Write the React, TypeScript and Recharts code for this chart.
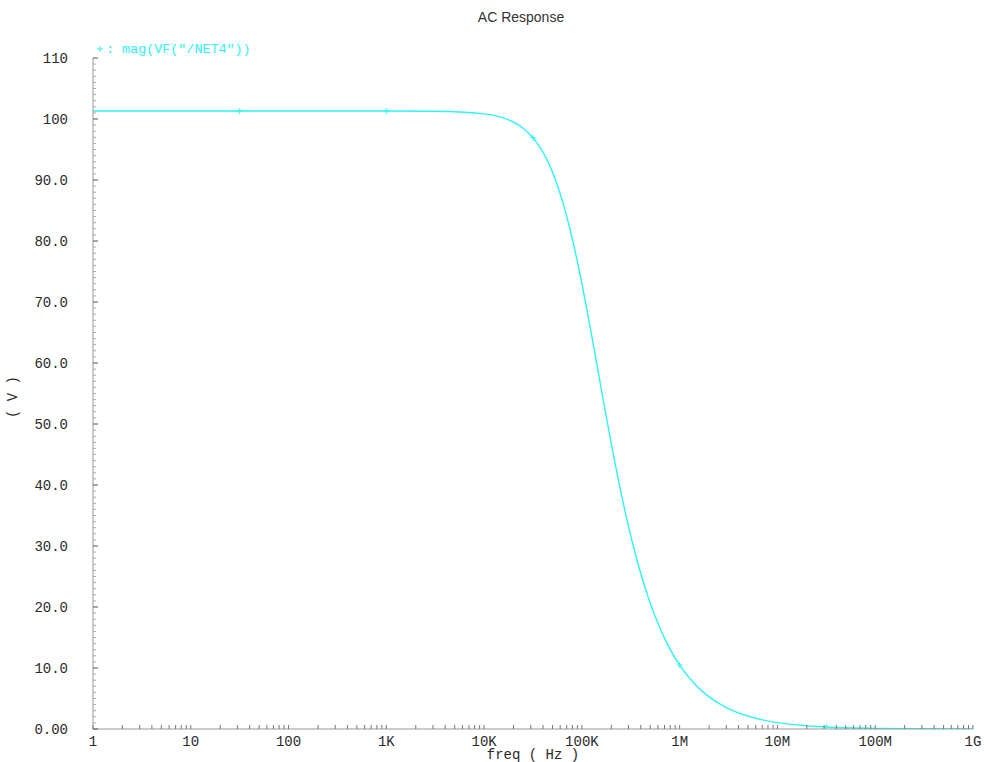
import React from 'react';
import { LineChart, Line, XAxis, YAxis, Customized } from 'recharts';

// Frequency sweep (Hz) and the magnitude of VF("/NET4") in volts
const freqHz = [
  1, 10, 31.6, 100, 1000, 3000, 10000, 15000, 20000, 25000, 31623, 35000, 40000,
  45000, 50000, 60000, 70000, 80000, 90000, 100000, 110000, 120000, 130000,
  150000, 170000, 200000, 250000, 300000, 350000, 400000, 500000, 600000,
  700000, 800000, 1000000, 1500000, 2000000, 3000000, 5000000, 7000000,
  10000000, 31623000, 100000000, 316230000, 1000000000,
];
const magV = [
  101.3, 101.3, 101.3, 101.3, 101.3, 101.26, 100.84, 100.27, 99.48, 98.49, 96.92,
  96.01, 94.55, 92.97, 91.29, 87.75, 84.04, 80.29, 76.6, 73.02, 69.59, 66.34,
  63.28, 57.72, 52.86, 46.74, 38.91, 33.18, 28.85, 25.49, 20.63, 17.3, 14.89,
  13.06, 10.48, 7.01, 5.26, 3.51, 2.11, 1.5, 1.054, 0.333, 0.105, 0.033, 0.0105,
];
// Frequencies carrying the "+" trace marker
const markerHz = [31.6, 1000, 31623, 1000000, 31623000, 1000000000];

const xMajorTicks = [1, 10, 100, 1e3, 1e4, 1e5, 1e6, 1e7, 1e8, 1e9];
const xMajorLabels = ['1', '10', '100', '1K', '10K', '100K', '1M', '10M', '100M', '1G'];
const yMajorTicks = [0, 10, 20, 30, 40, 50, 60, 70, 80, 90, 100, 110];
const yMajorLabels = ['0.00', '10.0', '20.0', '30.0', '40.0', '50.0', '60.0', '70.0', '80.0', '90.0', '100', '110'];

const title = 'AC Response';
const seriesName = 'mag(VF("/NET4"))';
const xTitle = 'freq ( Hz )';
const yTitle = '( V )';

const data = freqHz.map((f, i) => ({ f, v: magV[i] }));

// minor ticks: 2..9 within each decade, and every 1 V on the magnitude axis
const xTicks: number[] = [];
xMajorTicks.forEach((d, i) => {
  xTicks.push(d);
  if (i < xMajorTicks.length - 1) for (let k = 2; k <= 9; k++) xTicks.push(d * k);
});
const yTicks: number[] = [];
for (let v = 0; v <= 110; v++) yTicks.push(v);

const CYAN = '#2ef4f4';
const MONO = '"Liberation Mono", "DejaVu Sans Mono", monospace';
const SANS = '"Liberation Sans", Arial, sans-serif';
const INK = '#2a2a2a';

const XTick = (props: any) => {
  const { x, y, payload } = props;
  const idx = xMajorTicks.indexOf(payload.value);
  return (
    <g>
      <line x1={x} x2={x} y1={y} y2={y - 4} stroke="#777" strokeWidth={1} />
      {idx >= 0 && (
        <text x={x} y={y + 17} textAnchor="middle" fontFamily={MONO} fontSize={14} fill={INK}>
          {xMajorLabels[idx]}
        </text>
      )}
    </g>
  );
};

const YTick = (props: any) => {
  const { x, y, payload } = props;
  const idx = yMajorTicks.indexOf(payload.value);
  const major = idx >= 0;
  return (
    <g>
      <line x1={x} x2={x + (major ? 5 : 3)} y1={y} y2={y} stroke={major ? '#555' : '#aaa'} strokeWidth={1} />
      {major && (
        <text x={x - 25} y={y + 5} textAnchor="end" fontFamily={MONO} fontSize={14} fill={INK}>
          {yMajorLabels[idx]}
        </text>
      )}
    </g>
  );
};

const renderDot = (props: any) => {
  const { cx, cy, payload, index } = props;
  if (!markerHz.includes(payload.f)) return <g key={`d${index}`} />;
  return (
    <g key={`d${index}`}>
      <line x1={cx - 3} x2={cx + 3} y1={cy} y2={cy} stroke={CYAN} strokeWidth={1} />
      <line x1={cx} x2={cx} y1={cy - 3} y2={cy + 3} stroke={CYAN} strokeWidth={1} />
    </g>
  );
};

const Annotations = () => (
  <g>
    <text x={521} y={22} textAnchor="middle" fontFamily={SANS} fontSize={14} fill="#333">
      {title}
    </text>
    <line x1={97} x2={103} y1={49} y2={49} stroke={CYAN} strokeWidth={1} />
    <line x1={100} x2={100} y1={46} y2={52} stroke={CYAN} strokeWidth={1} />
    <text x={106} y={53} fontFamily={MONO} fontSize={13.4} fill={CYAN}>
      {': ' + seriesName}
    </text>
    <text x={533} y={759} textAnchor="middle" fontFamily={MONO} fontSize={14} fill={INK}>
      {xTitle}
    </text>
    <text
      x={17}
      y={397}
      textAnchor="middle"
      fontFamily={MONO}
      fontSize={14}
      fill={INK}
      transform="rotate(-90 17 397)"
    >
      {yTitle}
    </text>
  </g>
);

export default function App() {
  return (
    <div style={{ position: 'absolute', left: 0, top: 0, background: '#fff' }}>
      <LineChart width={984} height={762} data={data} margin={{ top: 58, right: 11, bottom: 3, left: 33 }}>
        <XAxis
          dataKey="f"
          type="number"
          scale="log"
          domain={[1, 1e9]}
          ticks={xTicks}
          interval={0}
          tickSize={0}
          tickMargin={0}
          tick={<XTick />}
          tickLine={false}
          axisLine={{ stroke: '#999' }}
          height={30}
          allowDataOverflow
        />
        <YAxis
          type="number"
          domain={[0, 110]}
          ticks={yTicks}
          interval={0}
          tickSize={0}
          tickMargin={0}
          tick={<YTick />}
          tickLine={false}
          axisLine={{ stroke: '#999' }}
          width={60}
          allowDataOverflow
        />
        <Line
          dataKey="v"
          type="monotone"
          stroke={CYAN}
          strokeWidth={1.4}
          dot={renderDot}
          activeDot={false}
          isAnimationActive={false}
        />
        <Customized component={Annotations} />
      </LineChart>
    </div>
  );
}
